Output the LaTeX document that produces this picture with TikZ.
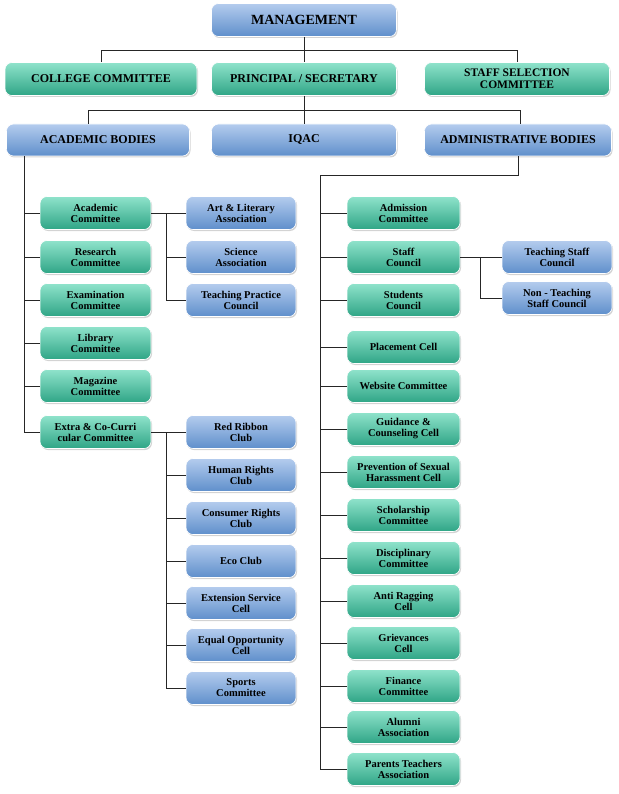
\documentclass[tikz,border=0pt]{standalone}
\usepackage{fontspec}
\setmainfont{Liberation Serif}
\usetikzlibrary{shadows}
\begin{document}
\begin{tikzpicture}[x=1pt,y=-1pt,
  base/.style={rounded corners=7pt,draw=white,line width=0.6pt,align=center,font=\bfseries\fontsize{10.5}{11}\selectfont,inner sep=1pt,drop shadow={opacity=0.35,shadow xshift=1pt,shadow yshift=-1.5pt}},
  bl/.style={base,top color=blueT,bottom color=blueB},
  tl/.style={base,top color=tealT,bottom color=tealB},
  big/.style={minimum height=33pt,font=\bfseries\fontsize{12}{12}\selectfont},
  ln/.style={draw=black!85,line width=0.8pt}]
\definecolor{blueT}{HTML}{B4CCEE}
\definecolor{blueB}{HTML}{5F8FCB}
\definecolor{tealT}{HTML}{8FE3CB}
\definecolor{tealB}{HTML}{2FA586}
\useasboundingbox (0,0) rectangle (618,794);
% top
\node[bl,big,minimum width=185pt,font=\bfseries\fontsize{14}{14}\selectfont] (mg) at (304,20) {MANAGEMENT};
\node[tl,big,minimum width=192pt] (cc) at (101,79) {COLLEGE COMMITTEE};
\node[tl,big,minimum width=185pt] (ps) at (304,79) {PRINCIPAL / SECRETARY};
\node[tl,big,minimum width=185pt,font=\bfseries\fontsize{11.5}{12}\selectfont] (ss) at (517,79) {STAFF SELECTION\\COMMITTEE};
\node[bl,big,minimum width=183pt,minimum height=32pt] (ab) at (98,140) {ACADEMIC BODIES};
\node[bl,big,minimum width=185pt,minimum height=32pt] (iq) at (304,140) {IQAC};
\node[bl,big,minimum width=187pt,minimum height=32pt] (ad) at (518,140) {ADMINISTRATIVE BODIES};
\begin{scope}[on background layer/.style={}]
\end{scope}
% connectors top
\coordinate (m1) at (304,50);
\draw[ln] (mg.south) -- (m1);
\draw[ln] (m1) -| (cc.north);
\draw[ln] (m1) -- (ps.north);
\draw[ln] (m1) -| (ss.north);
\coordinate (p1) at (304,110);
\draw[ln] (ps.south) -- (p1);
\draw[ln] (p1) -| (ab.north -| 88,0);
\draw[ln] (p1) -- (iq.north);
\draw[ln] (p1) -| (520,124);
% academic
\foreach \n/\y/\t in {ac/213/Academic\\Committee, rc/257/Research\\Committee, ec/300/Examination\\Committee, lc/343/Library\\Committee, mc/386/Magazine\\Committee, xc/432/Extra \& Co-Curri\\cular Committee}{
  \node[tl,minimum width=111pt,minimum height=33pt] (\n) at (95.5,\y) {\t};
  \draw[ln] (24,\y) -- (\n.west);
}
\draw[ln] (24,156) -- (24,432);
\foreach \n/\y/\t in {al/213/Art \& Literary\\Association, sa/257/Science\\Association, tp/300/Teaching Practice\\Council}{
  \node[bl,minimum width=110pt,minimum height=33pt] (\n) at (241,\y) {\t};
  \draw[ln] (166,\y) -- (\n.west);
}
\draw[ln] (ac.east) -- (166,213) -- (166,300);
\foreach \n/\y/\t in {rr/432/Red Ribbon\\Club, hr/475/Human Rights\\Club, cr/518/Consumer Rights\\Club, eco/561/Eco Club, es/603/Extension Service\\Cell, eo/645/Equal Opportunity\\Cell, sp/688/Sports\\Committee}{
  \node[bl,minimum width=110pt,minimum height=33pt] (\n) at (241,\y) {\t};
  \draw[ln] (166,\y) -- (\n.west);
}
\draw[ln] (xc.east) -- (166,432) -- (166,688);
% administrative
\draw[ln] (ad.south) -- (518,175) -- (320,175) -- (320,769);
\foreach \n/\y/\t in {adm/213/Admission\\Committee, stc/257/Staff\\Council, suc/300/Students\\Council, pc/347/Placement Cell, wc/386/Website Committee, gc/429/Guidance \&\\Counseling Cell, psh/472/Prevention of Sexual\\Harassment Cell, sch/515/Scholarship\\Committee, dc/558/Disciplinary\\Committee, arc/601/Anti Ragging\\Cell, grc/643/Grievances\\Cell, fc/686/Finance\\Committee, alu/727/Alumni\\Association, pta/769/Parents Teachers\\Association}{
  \node[tl,minimum width=113pt,minimum height=33pt] (\n) at (403.5,\y) {\t};
  \draw[ln] (320,\y) -- (\n.west);
}
\foreach \n/\y/\t in {tsc/257/Teaching Staff\\Council, ntc/298/Non - Teaching\\Staff Council}{
  \node[bl,minimum width=110pt,minimum height=33pt] (\n) at (557,\y) {\t};
  \draw[ln] (480,\y) -- (\n.west);
}
\draw[ln] (stc.east) -- (480,257) -- (480,298);
\end{tikzpicture}
\end{document}
